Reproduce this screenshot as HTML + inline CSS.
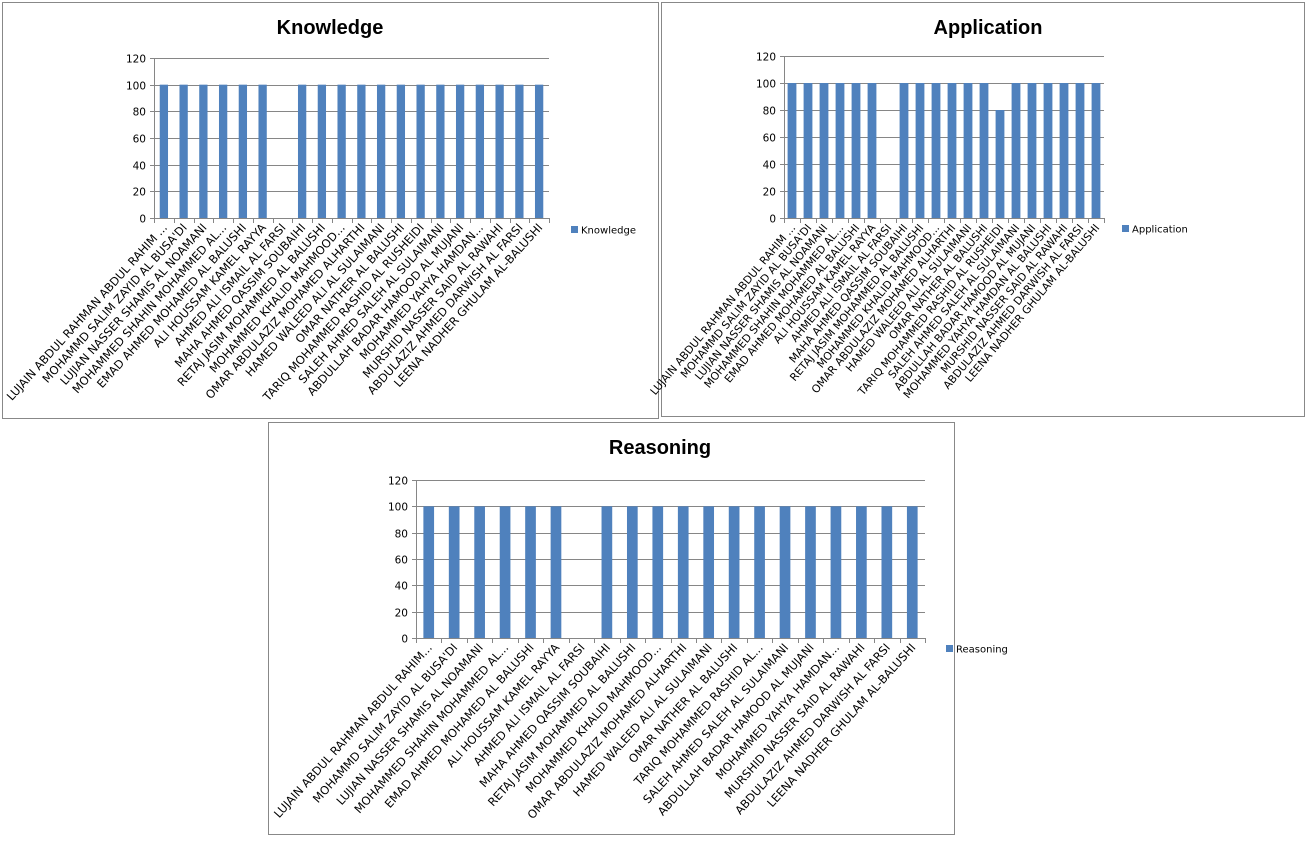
<!DOCTYPE html>
<html><head><meta charset="utf-8">
<style>
body{margin:0;background:#fff;width:1307px;height:841px;overflow:hidden;font-family:"DejaVu Sans","Liberation Sans",sans-serif;}
svg{position:absolute;left:0;top:0}
</style></head>
<body>
<svg id="s" width="1307" height="841"></svg>
<script>
const categories1 = ["LUJAIN ABDUL RAHMAN ABDUL RAHIM ...","MOHAMMD SALIM ZAYID AL BUSA'DI","LUJIAN NASSER SHAMIS AL NOAMANI","MOHAMMED SHAHIN MOHAMMED AL...","EMAD AHMED MOHAMED AL BALUSHI","ALI HOUSSAM KAMEL RAYYA","AHMED ALI ISMAIL AL FARSI","MAHA AHMED QASSIM SOUBAIHI","RETAJ JASIM MOHAMMED AL BALUSHI","MOHAMMED KHALID MAHMOOD...","OMAR ABDULAZIZ MOHAMED ALHARTHI","HAMED WALEED ALI AL SULAIMANI","OMAR NATHER AL BALUSHI","TARIQ MOHAMMED RASHID AL RUSHEIDI","SALEH AHMED SALEH AL SULAIMANI","ABDULLAH BADAR HAMOOD AL MUJANI","MOHAMMED YAHYA HAMDAN...","MURSHID NASSER SAID AL RAWAHI","ABDULAZIZ AHMED DARWISH AL FARSI","LEENA NADHER GHULAM AL-BALUSHI"];
const categories2 = ["LUJAIN ABDUL RAHMAN ABDUL RAHIM ...","MOHAMMD SALIM ZAYID AL BUSA'DI","LUJIAN NASSER SHAMIS AL NOAMANI","MOHAMMED SHAHIN MOHAMMED AL...","EMAD AHMED MOHAMED AL BALUSHI","ALI HOUSSAM KAMEL RAYYA","AHMED ALI ISMAIL AL FARSI","MAHA AHMED QASSIM SOUBAIHI","RETAJ JASIM MOHAMMED AL BALUSHI","MOHAMMED KHALID MAHMOOD...","OMAR ABDULAZIZ MOHAMED ALHARTHI","HAMED WALEED ALI AL SULAIMANI","OMAR NATHER AL BALUSHI","TARIQ MOHAMMED RASHID AL RUSHEIDI","SALEH AHMED SALEH AL SULAIMANI","ABDULLAH BADAR HAMOOD AL MUJANI","MOHAMMED YAHYA HAMDAN AL BALUSHI","MURSHID NASSER SAID AL RAWAHI","ABDULAZIZ AHMED DARWISH AL FARSI","LEENA NADHER GHULAM AL-BALUSHI"];
const categories3 = ["LUJAIN ABDUL RAHMAN ABDUL RAHIM...","MOHAMMD SALIM ZAYID AL BUSA'DI","LUJIAN NASSER SHAMIS AL NOAMANI","MOHAMMED SHAHIN MOHAMMED AL...","EMAD AHMED MOHAMED AL BALUSHI","ALI HOUSSAM KAMEL RAYYA","AHMED ALI ISMAIL AL FARSI","MAHA AHMED QASSIM SOUBAIHI","RETAJ JASIM MOHAMMED AL BALUSHI","MOHAMMED KHALID MAHMOOD...","OMAR ABDULAZIZ MOHAMED ALHARTHI","HAMED WALEED ALI AL SULAIMANI","OMAR NATHER AL BALUSHI","TARIQ MOHAMMED RASHID AL...","SALEH AHMED SALEH AL SULAIMANI","ABDULLAH BADAR HAMOOD AL MUJANI","MOHAMMED YAHYA HAMDAN...","MURSHID NASSER SAID AL RAWAHI","ABDULAZIZ AHMED DARWISH AL FARSI","LEENA NADHER GHULAM AL-BALUSHI"];
const knowledgeValues = [100,100,100,100,100,100,null,100,100,100,100,100,100,100,100,100,100,100,100,100];
const applicationValues = [100,100,100,100,100,100,null,100,100,100,100,100,100,80,100,100,100,100,100,100];
const reasoningValues = [100,100,100,100,100,100,null,100,100,100,100,100,100,100,100,100,100,100,100,100];
const yTicks = [0,20,40,60,80,100,120];

const NS="http://www.w3.org/2000/svg";
const svg=document.getElementById('s');
function mk(tag,attrs,parent){const e=document.createElementNS(NS,tag);for(const k in attrs)e.setAttribute(k,attrs[k]);(parent||svg).appendChild(e);return e;}

function chart(cfg){
  const g=mk('g',{});
  
  
  const fr=mk('rect',{x:cfg.box[0]+0.5,y:cfg.box[1]+0.5,width:cfg.box[2],height:cfg.box[3],fill:'#fff',stroke:'#888','stroke-width':1},g);
  
  
  const t=mk('text',{x:cfg.titleX,y:cfg.box[1]+32,'text-anchor':'middle','font-size':'20','font-weight':'bold',fill:'#000','font-family':'Liberation Sans, sans-serif'},g);
  t.textContent=cfg.title;
  
  
  const x0=cfg.x0,x1=cfg.x1,yT=cfg.yTop,yB=cfg.yBot;
  const yS=v=>yB-(v/120)*(yB-yT);
  const n=cfg.cats.length,w=(x1-x0)/n;
  const xS=i=>x0+w*(i+0.5);
  yTicks.forEach(v=>{
    const y=Math.round(yS(v))+0.5;
    const l=mk('line',{x1:x0-4,x2:x1,y1:y,y2:y,stroke:'#868686','stroke-width':1},g);
    
    
    const tx=mk('text',{x:x0-8,y:y+4,'text-anchor':'end','font-size':'10.5',fill:'#000'},g);
    tx.textContent=v;
    
    
  });
  const ax=mk('line',{x1:x0+0.5,x2:x0+0.5,y1:yT,y2:yB,stroke:'#868686'},g);
  
  
  for(let i=0;i<=n;i++){
    const xx=Math.round(x0+w*i)+0.5;
    mk('line',{x1:xx,x2:xx,y1:yB,y2:yB+5,stroke:'#868686'},g);
  }
  const bw=w*cfg.bar;
  cfg.vals.forEach((v,i)=>{
    if(v==null)return;
    const r=mk('rect',{x:xS(i)-bw/2,y:yS(v),width:bw,height:yB-yS(v),fill:'#4f81bd'},g);
    
    
  });
  cfg.cats.forEach((c,i)=>{
    const lx=xS(i)+4,ly=yB+10;
    const tx=mk('text',{x:lx,y:ly,'text-anchor':'end','font-size':cfg.fs,fill:'#000',transform:`rotate(${cfg.rot} ${lx} ${ly})`},g);
    tx.textContent=c;
    
    
  });
  const lr=mk('rect',{x:cfg.leg[0],y:cfg.leg[1]-4,width:7,height:7,fill:'#4f81bd'},g);
  
  
  const lt=mk('text',{x:cfg.leg[0]+10,y:cfg.leg[1]+3.5,'font-size':'10',fill:'#000'},g);
  lt.textContent=cfg.title;
  
  
}
chart({key:'knowledge',title:'Knowledge',cats:categories1,vals:knowledgeValues,box:[2,2,656,416],titleX:330,x0:154,x1:549,yTop:58,yBot:218,leg:[571,230],bar:0.42,rot:-48,fs:11.5});
chart({key:'application',title:'Application',cats:categories2,vals:applicationValues,box:[661,2,643,414],titleX:988,x0:784,x1:1104,yTop:56,yBot:218,leg:[1122,229],bar:0.55,rot:-50,fs:10.8});
chart({key:'reasoning',title:'Reasoning',cats:categories3,vals:reasoningValues,box:[268,422,686,412],titleX:660,x0:416,x1:925,yTop:480,yBot:638,leg:[946,649],bar:0.42,rot:-48,fs:11.5});
</script>
</body></html>
